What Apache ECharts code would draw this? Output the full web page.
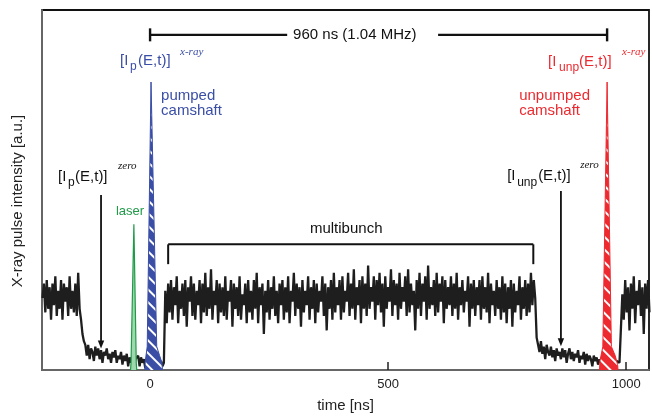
<!DOCTYPE html>
<html>
<head>
<meta charset="utf-8">
<script src="https://cdn.jsdelivr.net/npm/echarts@6/dist/echarts.min.js"></script>
<style>
html,body{margin:0;padding:0;background:#fff;}
#c{width:652px;height:418px;}
</style>
</head>
<body>
<div id="c"></div>
<script>
// ---------- data (time in ns, intensity in a.u.) ----------
const traceStart = -226;   // first sample time [ns]
const traceStep = 3;       // sample spacing [ns]

// single-bunch level before the gap
const preSegment = [20, 24, 16, 25, 17, 23, 14, 24, 18, 26, 15, 22, 17, 25, 14, 24, 19, 23, 15, 26, 17, 22, 16, 24, 15, 27, 17];
// ion-clearing gap with the pumped camshaft pulse
const gapSegment1 = [14, 10, 8, 7, 4, 7, 3, 6, 5, 2.5,
  6.5, 4, 6, 3, 5.5, 2, 5, 4, 6, 3,
  4.5, 2, 5, 3.5, 5.5, 2, 4, 3, 5, 1.5,
  4, 2.5, 4.5, 1, 3.5, 2, 4, 1.5, 3, 2.5,
  4, 1, 3.5, 2, 3, 0.5, 3, 2, 3.5, 1,
  2.5, 3, 2, 0.5, 3, 1.5, 2.5, 1, 2];
// multibunch train
const multibunchSegment = [
  22, 13, 24, 16, 25, 14, 23, 18, 26, 13, 22, 17, 24, 15, 25, 12, 23, 19, 26, 15,
  24, 14, 22, 18, 25, 13, 24, 16, 27, 15, 23, 17, 28, 14, 22, 18, 25, 13, 24, 16,
  23, 15, 26, 14, 22, 19, 25, 12, 24, 17, 23, 15, 26, 14, 21, 18, 24, 13, 25, 16,
  22, 14, 25, 17, 27, 13, 23, 18, 24, 10, 22, 16, 25, 14, 23, 17, 26, 15, 22, 13,
  24, 18, 25, 14, 23, 16, 26, 13, 22, 19, 27, 15, 24, 17, 23, 12, 25, 16, 22, 18,
  26, 14, 23, 17, 25, 13, 24, 16, 22, 19, 26, 15, 24, 11, 23, 17, 25, 14, 27, 16,
  23, 18, 25, 14, 26, 16, 22, 19, 27, 15, 24, 17, 28, 14, 23, 18, 25, 13, 26, 17,
  24, 15, 29, 17, 23, 19, 26, 14, 25, 18, 27, 16, 24, 12, 26, 17, 23, 19, 28, 15,
  25, 18, 24, 14, 27, 17, 23, 19, 26, 15, 28, 16, 24, 18, 22, 11, 25, 17, 27, 15,
  24, 19, 26, 14, 29, 17, 23, 18, 25, 15, 27, 16, 24, 19, 26, 13, 25, 17, 23, 18,
  26, 15, 24, 17, 27, 14, 23, 18, 25, 16, 22, 19, 26, 12, 24, 17, 25, 15, 23, 18,
  25, 14, 26, 17, 23, 16, 27, 13, 24, 18, 22, 15, 25, 17, 23, 14, 26, 16, 24, 13,
  23, 17, 25, 12, 24, 16, 22, 18, 26, 14, 23, 17, 25, 15, 24, 16, 27, 18, 25, 20];
// second gap with the unpumped camshaft pulse
const gapSegment2 = [9, 7, 5, 8, 4.5, 6.5, 3, 7, 5, 4, 6.5, 3.5, 5.5, 2.5, 6, 4, 5, 3, 6, 3.5,
  5.5, 2, 4.5, 6, 3, 5, 2.5, 4.5, 3.5, 5.5, 2, 4, 3, 5, 1.5, 4.5, 2.5, 4, 3, 1,
  4, 2.5, 3.5, 1.5, 3, 2, 4, 0.5, 3, 2.5, 3.5, 1, 3, 2, 3.5, 1.5, 2.5, 3, 2, 1.5];
// next single-bunch level
const postSegment = [21, 14, 25, 16, 23, 11, 24, 17, 26, 13, 22, 18, 25, 15, 23, 10, 24, 17, 25, 16];

// camshaft / laser pulses: [time, intensity]
const pumpedTimes = [-11, -10, -6, 2, 14, 20, 25, 26];
const pumpedValues = [0, 2.5, 6.5, 80, 6.5, 4, 2, 0];
const unpumpedTimes = [944, 945, 951, 960, 969, 977, 982, 983];
const unpumpedValues = [0, 2.5, 6.5, 80, 6.5, 4, 1.5, 0];
const laserTimes = [-41, -40, -34, -29, -28];
const laserValues = [0, 2, 40.5, 2, 0];

const tickValues = [0, 500, 1000];
const tickLabels = ['0', '500', '1000'];

// ---------- build ----------
const traceValues = [].concat(preSegment, gapSegment1, multibunchSegment, gapSegment2, postSegment);
const traceData = traceValues.map((v, i) => [traceStart + i * traceStep, v]);
const zip = (a, b) => a.map((t, i) => [t, b[i]]);

const FONT = "'Liberation Sans', Arial, Helvetica, sans-serif";
const BLUE = '#3a4ea6';
const RED = '#ec2a30';
const GREEN = '#1f9a48';

const hatch = {
  symbol: 'rect', symbolSize: 1,
  dashArrayX: [1, 0], dashArrayY: [2, 7],
  rotation: Math.PI / 4, color: '#ffffff'
};

const chart = echarts.init(document.getElementById('c'), null, {renderer: 'canvas'});
chart.setOption({
  animation: false,
  backgroundColor: '#fff',
  grid: {left: 42, right: 3, top: 10, bottom: 44, show: true, borderColor: '#111', borderWidth: 1.8, backgroundColor: 'transparent'},
  xAxis: {
    type: 'value', min: -227, max: 1048,
    name: 'time [ns]', nameLocation: 'middle', nameGap: 28,
    nameTextStyle: {fontFamily: FONT, fontSize: 15, color: '#222'},
    axisLine: {show: true, onZero: false, lineStyle: {color: '#666', width: 2}},
    axisTick: {show: true, inside: true, length: 8, customValues: tickValues, lineStyle: {color: '#222', width: 1.5}},
    axisLabel: {show: true, customValues: tickValues, formatter: (v) => tickLabels[tickValues.indexOf(v)] ?? '', fontFamily: FONT, fontSize: 13, color: '#222', margin: 8},
    splitLine: {show: false}
  },
  yAxis: {
    type: 'value', min: 0, max: 100,
    name: 'X-ray pulse intensity [a.u.]', nameLocation: 'middle', nameGap: 17,
    nameTextStyle: {fontFamily: FONT, fontSize: 15, color: '#222', padding: [0, 22, 0, 0]},
    axisLine: {show: true, onZero: false, lineStyle: {color: '#666', width: 2}},
    axisTick: {show: false}, axisLabel: {show: false}, splitLine: {show: false}
  },
  series: [
    {type: 'line', data: traceData, showSymbol: false, z: 2,
     lineStyle: {color: '#1e1e1e', width: 2.3}, itemStyle: {color: '#1e1e1e'}},
    {type: 'line', data: zip(laserTimes, laserValues), showSymbol: false, z: 3,
     lineStyle: {color: GREEN, width: 1.2}, itemStyle: {color: GREEN},
     areaStyle: {color: '#9ed9ad', opacity: 1}},
    {type: 'line', data: zip(pumpedTimes, pumpedValues), showSymbol: false, z: 4,
     lineStyle: {color: BLUE, width: 1}, itemStyle: {color: BLUE, decal: hatch},
     areaStyle: {color: BLUE, opacity: 1}},
    {type: 'line', data: zip(unpumpedTimes, unpumpedValues), showSymbol: false, z: 4,
     lineStyle: {color: RED, width: 1}, itemStyle: {color: RED, decal: hatch},
     areaStyle: {color: RED, opacity: 1}}
  ]
});

// ---------- annotations (anchored in data coordinates) ----------
const px = (t, v) => chart.convertToPixel({xAxisIndex: 0, yAxisIndex: 0}, [t, v]);
const g = [];
const line = (a, b, w, c) => g.push({type: 'line', shape: {x1: a[0], y1: a[1], x2: b[0], y2: b[1]}, style: {stroke: c || '#111', lineWidth: w}, z: 10});
const text = (p, s, opt) => g.push(Object.assign({type: 'text', x: p[0], y: p[1], z: 10,
  style: Object.assign({text: s, fill: '#111', font: '15px ' + FONT, align: 'left', verticalAlign: 'middle'}, opt || {})}));

// 960 ns bracket
{
  const v = 93.1;
  const a = px(0, v), b = px(288, v), c = px(605, v), d = px(960, v);
  line(a, b, 2.4); line(c, d, 2.4);
  line([a[0], a[1] - 6.5], [a[0], a[1] + 6.5], 2.4);
  line([d[0], d[1] - 6.5], [d[0], d[1] + 6.5], 2.4);
  text(px(430, v), '960 ns (1.04 MHz)', {align: 'center'});
}
// multibunch bracket
{
  const a = px(38, 34.9), b = px(805, 34.9), a2 = px(38, 29.4), b2 = px(805, 29.4);
  line(a2, a, 2); line(a, b, 2); line(b, b2, 2);
  text(px(412, 39.3), 'multibunch', {align: 'center'});
}
// arrows
function arrow(t, v0, v1) {
  const a = px(t, v0), b = px(t, v1);
  line(a, [b[0], b[1] - 6], 1.8);
  g.push({type: 'polygon', z: 10, shape: {points: [[b[0] - 3.2, b[1] - 8], [b[0] + 3.2, b[1] - 8], [b[0], b[1]]]}, style: {fill: '#111'}});
}
arrow(-103, 48.6, 6);
arrow(863, 49.7, 6.6);

// compound labels [I_sub(E,t)]^sup
function ilabel(t, v, sub, subDx, mainDx, sup, supDx, supDy, color) {
  const p = px(t, v);
  text(p, '[I', {fill: color});
  text([p[0] + subDx, p[1] + 6], sub, {fill: color, font: '12px ' + FONT});
  text([p[0] + mainDx, p[1]], '(E,t)]', {fill: color});
  text([p[0] + supDx, p[1] + supDy], sup, {fill: color, font: 'italic 11px "Liberation Serif", "Times New Roman", serif'});
}
ilabel(-63, 85.9, 'p', 10, 18, 'x-ray', 60, -9, BLUE);
ilabel(-193.3, 53.6, 'p', 10, 17, 'zero', 60, -11, '#111');
ilabel(836.1, 85.7, 'unp', 11, 31, 'x-ray', 74, -9, RED);
ilabel(750, 53.8, 'unp', 10, 31, 'zero', 73, -11, '#111');

text(px(23.1, 76.1), 'pumped', {fill: BLUE});
text(px(23.1, 71.9), 'camshaft', {fill: BLUE});
text(px(775.2, 76.1), 'unpumped', {fill: RED});
text(px(775.2, 71.9), 'camshaft', {fill: RED});
text(px(-42, 44), 'laser', {fill: GREEN, align: 'center', font: '13px ' + FONT});

chart.setOption({graphic: g});
</script>
</body>
</html>
